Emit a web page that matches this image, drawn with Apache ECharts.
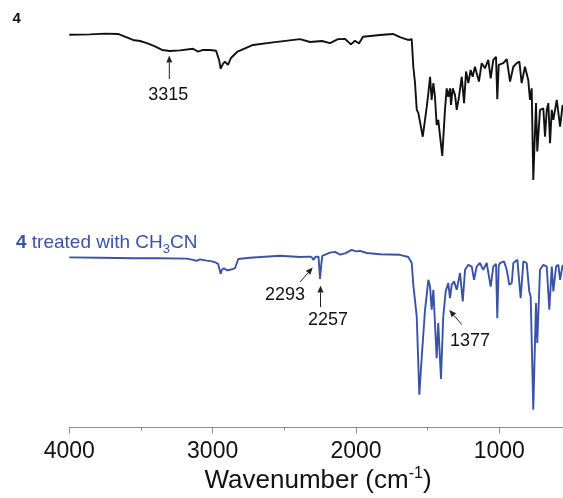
<!DOCTYPE html>
<html>
<head>
<meta charset="utf-8">
<script src="https://cdn.jsdelivr.net/npm/echarts@6/dist/echarts.min.js"></script>
<style>
  html, body { margin: 0; padding: 0; background: #fff; }
  #chart { width: 563px; height: 498px; }
</style>
</head>
<body>
<div id="chart"></div>
<script>
// IR spectra: [wavenumber (cm-1), transmittance (arbitrary, offset)]
const spectrumPlain = [
  [4000, 98.3], [3856, 98.4], [3751, 98.6], [3660, 98.5], [3556, 97.0], [3507, 96.75],
  [3458, 96.2], [3402, 95.4], [3353, 94.5], [3297, 94.25], [3228, 94.4], [3137, 94.8],
  [3102, 94.1], [3067, 94.5], [3018, 94.5], [2976, 94.3], [2955, 92.0], [2944, 89.75],
  [2928, 91.0], [2914, 91.6], [2893, 90.75], [2872, 92.5], [2830, 94.0], [2718, 95.75],
  [2579, 96.4], [2390, 97.2], [2321, 96.5], [2237, 96.75], [2181, 96.2], [2125, 97.2],
  [2076, 97.25], [2035, 95.9], [2007, 96.8], [1979, 96.1], [1951, 97.8], [1832, 98.25],
  [1742, 98.5], [1693, 97.7], [1637, 97.0], [1611, 97.2], [1600, 90.3], [1588, 86.25],
  [1576, 79.5], [1565, 78.75], [1534, 72.8], [1506, 80.3], [1495, 83.7], [1483, 87.8],
  [1472, 82.0], [1460, 86.2], [1449, 82.8], [1437, 75.75], [1426, 77.0], [1398, 68.0],
  [1379, 79.5], [1367, 84.9], [1356, 82.8], [1344, 84.9], [1337, 80.75], [1325, 84.9],
  [1309, 83.25], [1297, 79.5], [1281, 82.8], [1262, 87.8], [1246, 81.2], [1232, 89.1],
  [1216, 86.2], [1200, 89.5], [1186, 87.8], [1170, 90.3], [1142, 86.6], [1123, 91.2],
  [1100, 89.9], [1077, 92.0], [1060, 87.4], [1042, 92.0], [1023, 92.8], [1014, 82.2],
  [1004, 90.75], [972, 91.2], [948, 92.2], [925, 86.6], [902, 90.3], [878, 91.2],
  [860, 91.6], [844, 86.2], [821, 90.3], [798, 87.0], [786, 82.0], [774, 84.9],
  [763, 62.0], [744, 81.2], [735, 69.1], [716, 79.5], [693, 79.9], [681, 72.8],
  [669, 79.5], [658, 81.2], [646, 71.2], [634, 79.5], [623, 77.0], [599, 82.0],
  [588, 82.0], [576, 75.3], [558, 80.75]
];

const spectrumTreated = [
  [4000, 42.6], [3786, 42.5], [3556, 42.4], [3367, 42.4], [3181, 42.3], [3137, 42.0],
  [3111, 41.75], [3088, 42.1], [3041, 41.8], [3004, 41.6], [2983, 41.4], [2962, 41.0],
  [2944, 38.5], [2935, 39.5], [2921, 39.9], [2900, 39.4], [2879, 39.5], [2858, 39.75],
  [2844, 39.9], [2821, 42.2], [2739, 42.5], [2530, 43.0], [2390, 42.7], [2321, 42.8],
  [2307, 42.6], [2298, 42.0], [2281, 42.8], [2261, 42.75], [2251, 37.2], [2240, 41.5],
  [2235, 43.0], [2181, 43.8], [2146, 44.0], [2111, 43.3], [2076, 43.6], [2030, 44.5],
  [2000, 44.1], [1972, 44.25], [1925, 43.7], [1832, 43.4], [1693, 43.25], [1635, 42.7],
  [1611, 41.2], [1600, 35.75], [1588, 35.3], [1576, 27.8], [1558, 8.25], [1541, 17.8],
  [1518, 29.5], [1495, 37.0], [1483, 35.3], [1472, 29.5], [1460, 34.5], [1449, 26.2],
  [1437, 17.4], [1426, 26.2], [1407, 12.2], [1391, 27.8], [1374, 34.1], [1356, 36.2],
  [1344, 32.4], [1332, 35.75], [1316, 36.6], [1297, 34.5], [1274, 38.7], [1255, 31.6],
  [1239, 39.5], [1216, 40.75], [1192, 40.3], [1176, 37.0], [1158, 40.3], [1135, 41.2],
  [1112, 39.5], [1088, 41.2], [1060, 35.3], [1042, 40.3], [1023, 41.0], [1014, 27.4],
  [1004, 40.5], [995, 41.2], [967, 41.6], [948, 39.5], [930, 35.75], [913, 36.2],
  [902, 41.2], [874, 42.0], [851, 32.4], [832, 41.6], [809, 41.2], [791, 34.1],
  [781, 32.8], [763, 4.5], [744, 31.2], [735, 21.2], [716, 39.5], [693, 40.75],
  [669, 40.3], [651, 29.5], [634, 40.3], [623, 34.1], [604, 40.3], [588, 40.75],
  [576, 37.0], [558, 40.75]
];

const xMajorTicks = [1000, 2000, 3000, 4000];
const xMinorTicks = [1500, 2500, 3500];
const xRange = [555.6, 4000];

const FONT = '"Liberation Sans", Arial, Helvetica, sans-serif';
const BLUE = '#3a53a6';
const AXIS_GRAY = '#8c8c8c';

const chart = echarts.init(document.getElementById('chart'), null, { renderer: 'canvas' });

// Annotation arrow: shaft from tail to tip with a filled triangular head
function arrow(x1, y1, x2, y2) {
  const dx = x2 - x1, dy = y2 - y1;
  const len = Math.sqrt(dx * dx + dy * dy);
  const ux = dx / len, uy = dy / len;
  const headLen = 7, headHalf = 3;
  const bx = x2 - ux * headLen, by = y2 - uy * headLen;
  return {
    type: 'group',
    children: [
      { type: 'line', shape: { x1: x1, y1: y1, x2: bx, y2: by },
        style: { stroke: '#222', lineWidth: 1 } },
      { type: 'polygon',
        shape: { points: [[x2, y2], [bx - uy * headHalf, by + ux * headHalf], [bx + uy * headHalf, by - ux * headHalf]] },
        style: { fill: '#222' } }
    ]
  };
}

function peakLabel(text, x, y) {
  return { type: 'text', x: x, y: y,
    style: { text: text, font: '18px ' + FONT, fill: '#111', align: 'center', verticalAlign: 'middle' } };
}

chart.setOption({
  animation: false,
  backgroundColor: '#fff',
  grid: { left: 69.3, right: 0, top: 0, bottom: 70.3, containLabel: false },
  xAxis: [
    {
      type: 'value',
      inverse: true,
      min: xRange[0],
      max: xRange[1],
      axisLine: { show: true, lineStyle: { color: AXIS_GRAY, width: 1 } },
      axisTick: { show: true, length: 6, customValues: xMajorTicks,
        lineStyle: { color: AXIS_GRAY, width: 1 } },
      splitLine: { show: false },
      axisLabel: {
        margin: 12,
        fontSize: 23,
        fontFamily: FONT,
        color: '#111',
        customValues: xMajorTicks,
        formatter: function (v) { return String(v); }
      }
    },
    {
      // half-step ticks between the labelled ones
      type: 'value',
      inverse: true,
      position: 'bottom',
      min: xRange[0],
      max: xRange[1],
      axisLine: { show: false },
      axisTick: { show: true, length: 3, customValues: xMinorTicks,
        lineStyle: { color: AXIS_GRAY, width: 1 } },
      axisLabel: { show: false },
      splitLine: { show: false }
    }
  ],
  yAxis: { type: 'value', min: 0, max: 107, show: false },
  series: [
    { name: '4', type: 'line', data: spectrumPlain, showSymbol: false, symbol: 'none',
      xAxisIndex: 0, lineStyle: { color: '#111', width: 1.9 }, z: 3 },
    { name: '4 treated with CH3CN', type: 'line', data: spectrumTreated, showSymbol: false, symbol: 'none',
      xAxisIndex: 0, lineStyle: { color: BLUE, width: 1.9 }, z: 3 }
  ],
  graphic: [
    { type: 'text', x: 12.5, y: 19,
      style: { text: '4', font: 'bold 15px ' + FONT, fill: '#111', verticalAlign: 'middle' } },
    { type: 'text', x: 16, y: 242.5,
      style: {
        text: '{b|4} {a|treated with CH}{s|3}{a|CN}',
        verticalAlign: 'middle',
        rich: {
          b: { fontFamily: FONT, fontSize: 19, fontWeight: 'bold', fill: BLUE, color: BLUE, lineHeight: 26 },
          a: { fontFamily: FONT, fontSize: 19, fill: BLUE, color: BLUE, lineHeight: 26 },
          s: { fontFamily: FONT, fontSize: 13, fill: BLUE, color: BLUE, lineHeight: 13, verticalAlign: 'bottom' }
        },
        font: '19px ' + FONT, fill: BLUE
      } },
    { type: 'text', x: 318, y: 481,
      style: {
        text: '{a|Wavenumber (cm}{s|-1}{a|)}',
        align: 'center',
        verticalAlign: 'middle',
        rich: {
          a: { fontFamily: FONT, fontSize: 26, fill: '#111', color: '#111', lineHeight: 30 },
          s: { fontFamily: FONT, fontSize: 16, fill: '#111', color: '#111', lineHeight: 16, verticalAlign: 'top' }
        },
        font: '26px ' + FONT, fill: '#111'
      } },
    arrow(169.3, 79, 169.3, 55.5),
    peakLabel('3315', 168.3, 95),
    arrow(300, 282, 312.7, 267.5),
    peakLabel('2293', 285, 295),
    arrow(320.5, 307, 320.5, 285.5),
    peakLabel('2257', 328, 320),
    arrow(461.7, 324.5, 449.3, 310),
    peakLabel('1377', 470, 341)
  ]
});
</script>
</body>
</html>
